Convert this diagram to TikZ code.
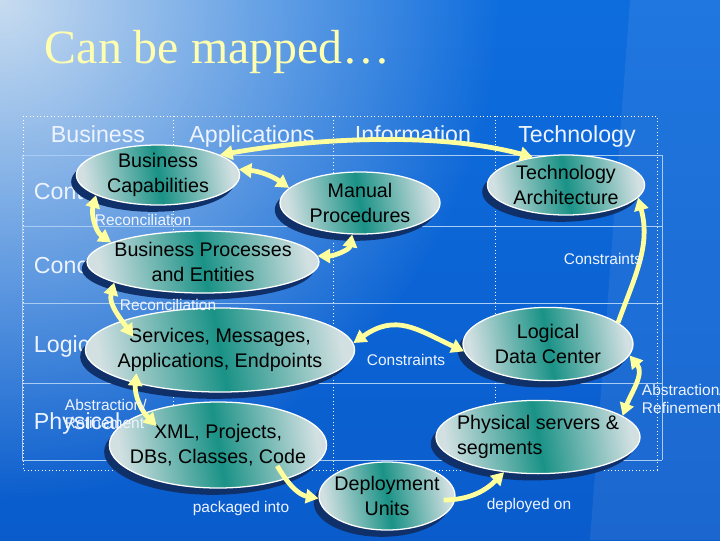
\documentclass[tikz,border=0pt]{standalone}
\usepackage{fontspec}
\setmainfont{Liberation Sans}
\newfontfamily\titlefont{Liberation Serif}
\usetikzlibrary{arrows.meta,shapes.geometric,shadows,fadings}
\definecolor{slidetop}{HTML}{0E6DDD}
\definecolor{slidebottom}{HTML}{0A5CCC}
\definecolor{slidelight}{HTML}{C8DCF0}
\definecolor{gridline}{HTML}{A8CCF2}
\definecolor{headwhite}{HTML}{EEF4FF}
\definecolor{titleyellow}{HTML}{FFFFB0}
\definecolor{flowyellow}{HTML}{FFFF9E}
\definecolor{blobedge}{HTML}{D2E0E2}
\definecolor{blobteal}{HTML}{1A9286}
\definecolor{blobshadow}{HTML}{10306A}
\tikzfading[name=cornerglow,inner color=transparent!0,outer color=transparent!100]

\begin{document}
\begin{tikzpicture}[x=0.025cm,y=-0.025cm]
  \tikzset{
    slidetitle/.style={anchor=base west,text=titleyellow,font=\titlefont\fontsize{34}{40}\selectfont},
    colhead/.style={anchor=base,text=headwhite,font=\fontsize{16.5}{19}\selectfont},
    rowhead/.style={colhead,anchor=base west},
    smallnote/.style={text=headwhite,font=\fontsize{11}{12.5}\selectfont,align=left},
    gridsolid/.style={draw=gridline,line width=0.7pt},
    griddot/.style={draw=white,dotted,line width=0.5pt},
    blob/.style={ellipse,draw=white,line width=0.9pt,inner xsep=-12pt,inner ysep=-4pt,
      left color=blobedge,right color=blobedge,middle color=blobteal,shading angle=100,
      drop shadow={shadow xshift=-0.13cm,shadow yshift=-0.17cm,fill=blobshadow,opacity=1},
      align=center,text=black,font=\fontsize{14}{17.5}\selectfont},
    mapflow/.style={draw=flowyellow,line width=3.4pt,
      {Triangle[length=9pt,width=10pt]}-{Triangle[length=9pt,width=10pt]}},
    oneflow/.style={mapflow,-{Triangle[length=9pt,width=10pt]}}
  }
  \useasboundingbox (0,0) rectangle (720,540);
  \fill[top color=slidetop,bottom color=slidebottom] (0,0) rectangle (720,540);
  \fill[slidelight,path fading=cornerglow] (0,0) circle (500);
  \fill[white,opacity=0.07] (630,0) -- (720,0) -- (720,540) -- (590,540) -- cycle;

  \foreach \y in {155,226,303,383,460}
    \draw[gridsolid] (22,\y) -- (662,\y);
  \draw[gridsolid] (22,155) -- (22,460) (662,155) -- (662,460);
  \draw[griddot] (23,116) rectangle (657,470);
  \foreach \x in {173,333,495}
    \draw[griddot] (\x,116) -- (\x,470);

  \node[slidetitle] (title) at (40,63) {Can be mapped…};
  \node[colhead] (hbus) at (98,142) {Business};
  \node[colhead] (happ) at (252,142) {Applications};
  \node[colhead] (hinf) at (413,142) {Information};
  \node[colhead] (htec) at (577,142) {Technology};
  \node[rowhead] (rctx) at (29,199) {Contextual};
  \node[rowhead] (rcon) at (29,273) {Conceptual};
  \node[rowhead] (rlog) at (29,352) {Logical};
  \node[rowhead] (rphy) at (29,429) {Physical};

  \node[blob,minimum width=4.08cm,minimum height=1.5cm] (bc) at (158,175) {Business\\Capabilities};
  \node[blob,minimum width=4cm,minimum height=1.55cm] (mp) at (360,203) {Manual\\Procedures};
  \node[blob,minimum width=3.93cm,minimum height=1.5cm] (ta) at (566,185) {Technology\\Architecture};
  \node[blob,minimum width=5.8cm,minimum height=1.55cm] (bp) at (203,262) {Business Processes\\and Entities};
  \node[blob,minimum width=6.73cm,minimum height=2.1cm] (sv) at (220,350) {Services, Messages,\\Applications, Endpoints};
  \node[blob,minimum width=4.25cm,minimum height=1.83cm] (ldc) at (548,344) {Logical\\Data Center};
  \node[blob,minimum width=5.43cm,minimum height=2.15cm] (xml) at (218,445) {XML, Projects,\\DBs, Classes, Code};
  \node[blob,minimum width=5.1cm,minimum height=1.83cm,align=left] (ps) at (538,437) {Physical servers \&\\segments};
  \node[blob,minimum width=3.4cm,minimum height=1.7cm] (du) at (387,496) {Deployment\\Units};

  \draw[mapflow] (bc.18) to[out=10,in=165,looseness=0.8] (ta.140);
  \draw[mapflow] (bc.4) to[bend left=15] (mp.168);
  \draw[mapflow] (bc.198) to[out=255,in=145] (bp.168);
  \draw[mapflow] (bp.3) to[out=0,in=-100] (mp.256);
  \draw[mapflow] (bp.193) to[out=255,in=125] ([shift={(9,17)}]sv.north west);
  \draw[mapflow] ([shift={(12,-7)}]sv.south west) to[out=265,in=135] ([shift={(16,12)}]xml.north west);
  \draw[mapflow] (sv.3) to[out=35,in=155,looseness=1.2] (ldc.185);
  \draw[oneflow] (ldc.17) to[out=70,in=-75] (ta.-10);
  \draw[mapflow] (ldc.-8) to[out=-50,in=70] (ps.14);
  \draw[oneflow] ([shift={(-18,-10)}]xml.south east) to[out=-60,in=170] (du.182);
  \draw[oneflow] ([shift={(-12,4)}]du.east) to[out=0,in=225] (ps.226);

  \node[smallnote,anchor=base] (rec1) at (143,225) {Reconciliation};
  \node[smallnote,anchor=base] (rec2) at (168,310) {Reconciliation};
  \node[smallnote,anchor=base] (con1) at (603,264) {Constraints};
  \node[smallnote,anchor=base] (con2) at (406,365) {Constraints};
  \node[smallnote,anchor=west] (abs1) at (60,414) {Abstraction/\\Refinement};
  \node[smallnote,anchor=west] (abs2) at (637,399) {Abstraction/\\Refinement};
  \node[smallnote,anchor=base] (pack) at (241,512) {packaged into};
  \node[smallnote,anchor=base] (depl) at (529,509) {deployed on};
\end{tikzpicture}
\end{document}
